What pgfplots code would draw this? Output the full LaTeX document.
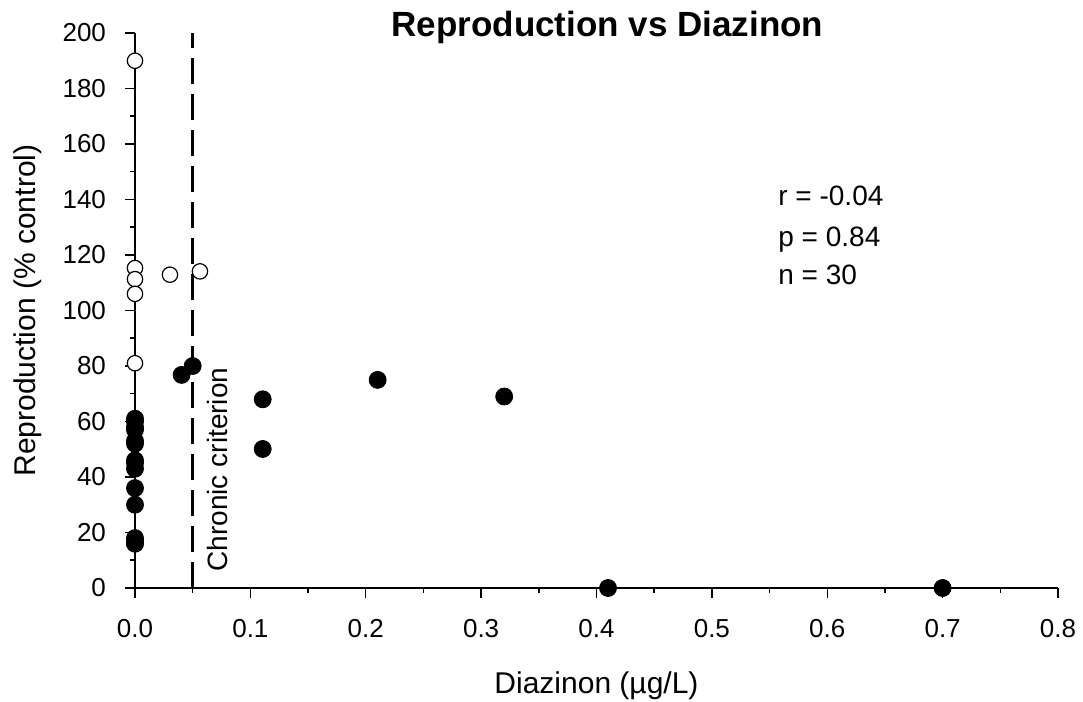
\documentclass[border=0pt]{standalone}
\usepackage{pgfplots}
\pgfplotsset{compat=1.18}
\usepackage{fontspec}
\setmainfont{Liberation Sans}
\begin{document}
\begin{tikzpicture}
\begin{axis}[
  scale only axis,
  width=461.5pt, height=277.5pt,
  xmin=0, xmax=0.8, ymin=0, ymax=200,
  axis x line=bottom, axis y line=left,
  axis line style={-, line width=0.75pt},
  every tick/.style={black, line width=0.75pt},
  tick align=outside,
  major tick length=5pt, minor tick length=2.5pt,
  xtick={0,0.1,...,0.8}, ytick={0,20,...,200},
  minor x tick num=1, minor y tick num=1,
  clip=false,
  /pgf/number format/assume math mode=true,
  tick label style={font=\fontsize{13}{15}\selectfont},
  xticklabel style={yshift=-7pt, /pgf/number format/.cd, fixed, fixed zerofill, precision=1},
  yticklabel style={xshift=-6pt, /pgf/number format/.cd, fixed, precision=0},
  xlabel={Diazinon (µg/L)},
  ylabel={Reproduction (\% control)},
  xlabel style={font=\fontsize{15}{18}\selectfont, at={(axis description cs:0.5,-0.18919)}, anchor=base},
  ylabel style={font=\fontsize{15}{18}\selectfont, at={(axis description cs:-0.10834,0.5)}, anchor=base, rotate=0},
]
\coordinate (O) at (axis cs:0,0);
% chronic criterion line
\addplot[black, line width=1.2pt, dash pattern=on 13pt off 5pt] coordinates {(0.05,0) (0.05,200)};
% filled points
\addplot[only marks, mark=*, mark size=4.25pt, black] coordinates {
 (0,61) (0,60) (0,58) (0,57) (0,53) (0,52) (0,46) (0,45) (0,43)
 (0,36) (0,30) (0,18) (0,17) (0,16) (0,16)
 (0.0404,76.8) (0.05,80) (0.1107,68) (0.1107,50.1) (0.2103,75) (0.32,69)
 (0.41,0) (0.70,0)
};
% open points
\addplot[only marks, mark=*, mark size=3.85pt, mark options={fill=white, draw=black, line width=0.6pt}] coordinates {
 (0,190) (0,115.3) (0,111.3) (0,106) (0,81) (0.0303,112.9) (0.0563,114.1)
};
\node[anchor=base west, inner sep=0pt, font=\fontsize{14}{16}\selectfont] at (axis cs:0.5573,137.7) {r = -0.04};
\node[anchor=base west, inner sep=0pt, font=\fontsize{14}{16}\selectfont] at (axis cs:0.5573,123.2) {p = 0.84};
\node[anchor=base west, inner sep=0pt, font=\fontsize{14}{16}\selectfont] at (axis cs:0.5573,109.2) {n = 30};
\node[rotate=90, anchor=base west, inner sep=0pt, font=\fontsize{14}{16}\selectfont] at (axis cs:0.0806,5.8) {Chronic criterion};
\node[anchor=base, inner sep=0pt, font=\bfseries\fontsize{17.5}{20}\selectfont] at (axis cs:0.4095,198.8) {Reproduction vs Diazinon};
\end{axis}
\pgfresetboundingbox
\path[use as bounding box] (O) ++(-67.5pt,-57pt) rectangle ++(541.5pt,351pt);
\end{tikzpicture}
\end{document}
